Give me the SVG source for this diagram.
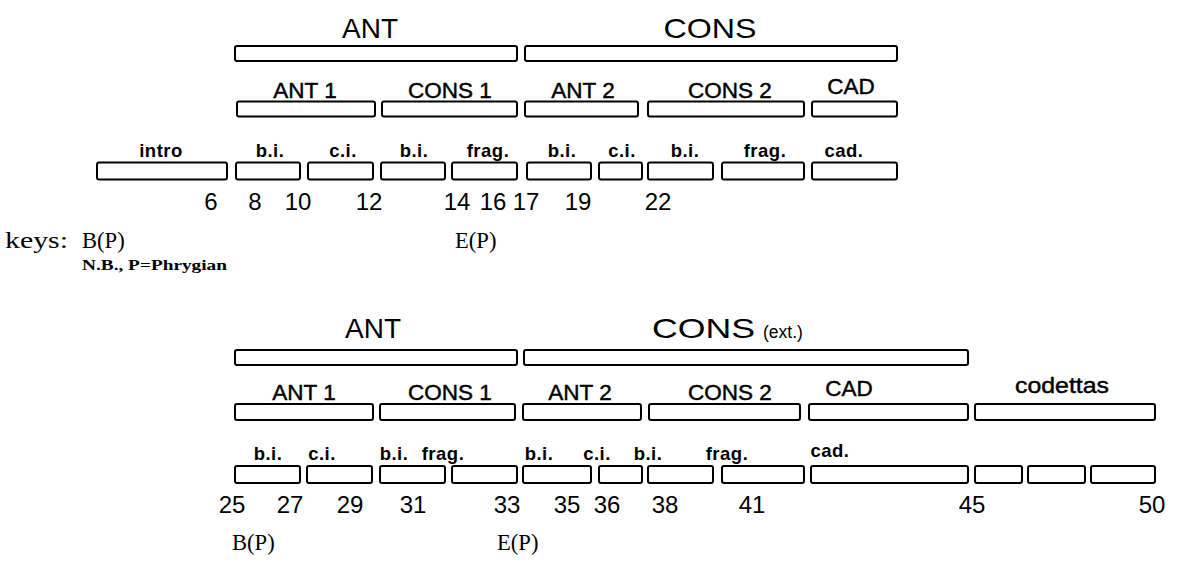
<svg xmlns="http://www.w3.org/2000/svg" width="1179" height="565" viewBox="0 0 1179 565">
  <style>
    .box { fill: #fff; stroke: #000; stroke-width: 2; }
    text { fill: #000; }
    .big { font-family: "Liberation Sans", Arial, sans-serif; font-size: 28px; text-anchor: middle; }
    .ext { font-family: "Liberation Sans", Arial, sans-serif; font-size: 17.5px; }
    .mid { font-family: "Liberation Sans", Arial, sans-serif; font-size: 22.5px; text-anchor: middle; stroke: #000; stroke-width: 0.45; }
    .small { font-family: "Liberation Sans", Arial, sans-serif; font-size: 18.5px; font-weight: bold; letter-spacing: 0.5px; text-anchor: middle; }
    .num { font-family: "Liberation Sans", Arial, sans-serif; font-size: 24px; text-anchor: middle; }
    .key { font-family: "Liberation Serif", "Times New Roman", serif; font-size: 22.6px; }
    .note { font-family: "Liberation Serif", "Times New Roman", serif; font-size: 15.5px; font-weight: bold; }
  </style>

  <!-- ===== Section 1: bars 1-22 ===== -->
  <g id="s1-phrase">
    <g id="s1-ant"><rect class="box" x="235" y="46" width="282" height="15" rx="2"/><text class="big" x="370" y="38">ANT</text></g>
    <g id="s1-cons"><rect class="box" x="525" y="46" width="372" height="15" rx="2"/><text class="big" x="710" y="38" textLength="93" lengthAdjust="spacingAndGlyphs">CONS</text></g>
  </g>

  <g id="s1-subphrase">
    <g id="s1-ant1"><rect class="box" x="237" y="101.5" width="138" height="15" rx="2"/><text class="mid" x="305" y="98">ANT 1</text></g>
    <g id="s1-cons1"><rect class="box" x="382" y="101.5" width="135" height="15" rx="2"/><text class="mid" x="450" y="98">CONS 1</text></g>
    <g id="s1-ant2"><rect class="box" x="525" y="101.5" width="113" height="15" rx="2"/><text class="mid" x="583" y="98">ANT 2</text></g>
    <g id="s1-cons2"><rect class="box" x="648" y="101.5" width="156" height="15" rx="2"/><text class="mid" x="730" y="98">CONS 2</text></g>
    <g id="s1-cad"><rect class="box" x="812" y="101.5" width="85" height="15" rx="2"/><text class="mid" x="851" y="94">CAD</text></g>
  </g>

  <g id="s1-segments">
    <g id="s1-intro"><rect class="box" x="97" y="162.5" width="130" height="17" rx="2"/><text class="small" x="161" y="157">intro</text></g>
    <g id="s1-bi1"><rect class="box" x="236" y="162.5" width="64" height="17" rx="2"/><text class="small" x="270" y="157">b.i.</text></g>
    <g id="s1-ci1"><rect class="box" x="308" y="162.5" width="65" height="17" rx="2"/><text class="small" x="343" y="157">c.i.</text></g>
    <g id="s1-bi2"><rect class="box" x="381" y="162.5" width="64" height="17" rx="2"/><text class="small" x="414" y="157">b.i.</text></g>
    <g id="s1-frag1"><rect class="box" x="452" y="162.5" width="65" height="17" rx="2"/><text class="small" x="488" y="157">frag.</text></g>
    <g id="s1-bi3"><rect class="box" x="527" y="162.5" width="64" height="17" rx="2"/><text class="small" x="562" y="157">b.i.</text></g>
    <g id="s1-ci2"><rect class="box" x="599" y="162.5" width="43" height="17" rx="2"/><text class="small" x="622" y="157">c.i.</text></g>
    <g id="s1-bi4"><rect class="box" x="648" y="162.5" width="65" height="17" rx="2"/><text class="small" x="685" y="157">b.i.</text></g>
    <g id="s1-frag2"><rect class="box" x="722" y="162.5" width="82" height="17" rx="2"/><text class="small" x="765" y="157">frag.</text></g>
    <g id="s1-cad-seg"><rect class="box" x="812" y="162.5" width="85" height="17" rx="2"/><text class="small" x="844" y="157">cad.</text></g>
  </g>

  <g id="s1-bars" class="num">
    <text x="211" y="210">6</text>
    <text x="255" y="210">8</text>
    <text x="298" y="210">10</text>
    <text x="369" y="210">12</text>
    <text x="457" y="210">14</text>
    <text x="493" y="210">16</text>
    <text x="526" y="210">17</text>
    <text x="578" y="210">19</text>
    <text x="658" y="210">22</text>
  </g>

  <g id="s1-keys">
    <text class="key" x="5" y="248" textLength="63" lengthAdjust="spacingAndGlyphs">keys:</text>
    <text class="key" x="82" y="248">B(P)</text>
    <text class="key" x="455" y="248">E(P)</text>
    <text class="note" x="82" y="270" textLength="145" lengthAdjust="spacingAndGlyphs">N.B., P=Phrygian</text>
  </g>

  <!-- ===== Section 2: bars 25-50 ===== -->
  <g id="s2-phrase">
    <g id="s2-ant"><rect class="box" x="235" y="350" width="282" height="15" rx="2"/><text class="big" x="373" y="338">ANT</text></g>
    <g id="s2-cons"><rect class="box" x="524" y="350" width="444" height="15" rx="2"/>
      <text class="big" x="652" y="338" style="text-anchor:start" textLength="103" lengthAdjust="spacingAndGlyphs">CONS</text>
      <text class="ext" x="763" y="338">(ext.)</text></g>
  </g>

  <g id="s2-subphrase">
    <g id="s2-ant1"><rect class="box" x="235" y="404" width="138" height="16" rx="2"/><text class="mid" x="304" y="400">ANT 1</text></g>
    <g id="s2-cons1"><rect class="box" x="380" y="404" width="135" height="16" rx="2"/><text class="mid" x="450" y="400">CONS 1</text></g>
    <g id="s2-ant2"><rect class="box" x="523" y="404" width="118" height="16" rx="2"/><text class="mid" x="580" y="400">ANT 2</text></g>
    <g id="s2-cons2"><rect class="box" x="649" y="404" width="151" height="16" rx="2"/><text class="mid" x="730" y="400">CONS 2</text></g>
    <g id="s2-cad"><rect class="box" x="809" y="404" width="159" height="16" rx="2"/><text class="mid" x="849" y="396">CAD</text></g>
    <g id="s2-codettas"><rect class="box" x="975" y="404" width="180" height="16" rx="2"/><text class="mid" x="1062" y="393" textLength="94" lengthAdjust="spacingAndGlyphs">codettas</text></g>
  </g>

  <g id="s2-segments">
    <g id="s2-bi1"><rect class="box" x="235" y="466" width="65" height="17" rx="2"/><text class="small" x="268" y="460">b.i.</text></g>
    <g id="s2-ci1"><rect class="box" x="307" y="466" width="65" height="17" rx="2"/><text class="small" x="322" y="460">c.i.</text></g>
    <g id="s2-bi2"><rect class="box" x="380" y="466" width="65" height="17" rx="2"/><text class="small" x="394" y="460">b.i.</text></g>
    <g id="s2-frag1"><rect class="box" x="452" y="466" width="65" height="17" rx="2"/><text class="small" x="443" y="460">frag.</text></g>
    <g id="s2-bi3"><rect class="box" x="523" y="466" width="68" height="17" rx="2"/><text class="small" x="539" y="460">b.i.</text></g>
    <g id="s2-ci2"><rect class="box" x="599" y="466" width="43" height="17" rx="2"/><text class="small" x="597" y="460">c.i.</text></g>
    <g id="s2-bi4"><rect class="box" x="648" y="466" width="65" height="17" rx="2"/><text class="small" x="648" y="460">b.i.</text></g>
    <g id="s2-frag2"><rect class="box" x="722" y="466" width="82" height="17" rx="2"/><text class="small" x="727" y="460">frag.</text></g>
    <g id="s2-cad-seg"><rect class="box" x="811" y="466" width="157" height="17" rx="2"/><text class="small" x="830" y="457">cad.</text></g>
    <g id="s2-codetta1"><rect class="box" x="975" y="466" width="47" height="17" rx="2"/></g>
    <g id="s2-codetta2"><rect class="box" x="1028" y="466" width="57" height="17" rx="2"/></g>
    <g id="s2-codetta3"><rect class="box" x="1091" y="466" width="64" height="17" rx="2"/></g>
  </g>

  <g id="s2-bars" class="num">
    <text x="232" y="513">25</text>
    <text x="290" y="513">27</text>
    <text x="350" y="513">29</text>
    <text x="413" y="513">31</text>
    <text x="507" y="513">33</text>
    <text x="567" y="513">35</text>
    <text x="607" y="513">36</text>
    <text x="665" y="513">38</text>
    <text x="752" y="513">41</text>
    <text x="972" y="513">45</text>
    <text x="1152" y="513">50</text>
  </g>

  <g id="s2-keys">
    <text class="key" x="232" y="550">B(P)</text>
    <text class="key" x="497" y="550">E(P)</text>
  </g>
</svg>
